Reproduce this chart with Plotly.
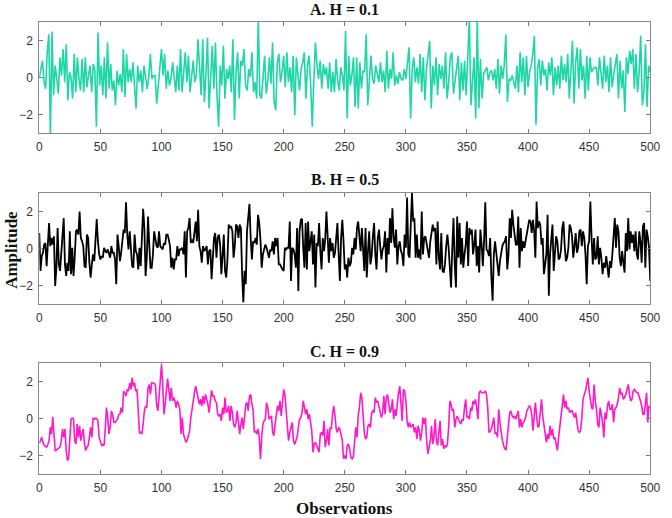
import numpy as np
import plotly.graph_objects as go

# ---------------- data ----------------
series_a = [
 0, 0.38, 0.91, -0.25, -0.61, 1.36, 2.34, -3.2, 2.48, -0.96, 0.64, -0.07, -0.88, 1.09, 0.11, 1.54,
 -0.25, 1.8, -1.23, 0.29, 0.02, -1.14, 1.27, -0.79, 1.09, -0.07, -0.7, 1.0, -0.79, 1.09, -0.52, 0.11,
 0.64, -0.79, 0.73, 0.38, -2.66, 2.43, -0.43, 0.64, -0.96, 1.09, -1.14, 1.89, -0.61, 0.73, -0.7, -0.16,
 -1.5, 0.38, -0.43, 0.2, -0.79, 1.54, -1.05, 1.27, -0.25, 0.46, -0.25, 0.82, -0.61, -1.68, 0.64, -0.25,
 0.38, -0.79, 0.64, -0.16, -0.61, 0.02, 1.27, -0.07, 0.11, 0.11, -1.41, -0.43, 0.73, 1.54, 0.11, 1.27,
 -0.61, 0.38, -0.43, -0.07, 0.82, -0.16, -0.79, 0.64, -0.7, 1.54, -0.79, 0.29, 1.36, -0.25, 1.18, -0.79,
 0.11, 0.91, -0.25, 0.11, 2.07, 0.11, -0.96, 2.07, -1.32, 0.11, 2.16, -1.68, 0.02, 1.71, -0.61, 1.89,
 -0.96, -2.66, 0.64, -0.43, 1.71, -1.14, 0.46, -0.07, 0.64, -0.79, 2.07, -2.3, 0.29, 1.36, -1.14, 0.91,
 0.64, 1.54, -0.43, -0.7, 0.46, 0.02, 1.36, -0.79, -0.25, -1.14, 3.2, -0.96, -1.14, 0.2, 1.18, -0.88,
 -0.16, 1.09, -0.34, 1.89, -1.32, -1.77, 0.82, 1.27, -0.25, 0.29, 1.18, -0.52, 1.36, -0.25, 0.55, -0.79,
 1.18, -2.04, 1.09, 0.11, -0.7, 0.46, 0.82, 1.36, -1.14, 0.64, 1.18, -0.34, -2.66, -0.16, 1.89, 0.64,
 -0.07, 0.91, -0.61, 0.73, 0.11, 0.55, -0.61, 0.82, -0.79, 0.29,
 -0.79, 1.0, -0.16, -0.7, 0.55, 0.11, -0.7, 2.52, -2.21, 1.18, -0.43, 0.11, 1.09, -1.59, 1.09, -1.68,
 0.82, -0.61, 0.38, 0.29, 2.34, -1.5, -0.25, 1.18, -0.07, -0.34, 0.64, 0.11, -0.25, 0.82, -0.25, 0.38,
 -0.79, 1.45, -0.61, 0.46, -0.07, 1.36, -0.43, 0.11, -0.34, 0.29, -0.07, -0.16, 0.46, -0.07, 1.0, 1.63,
 -2.21, 0.46, 1.09, -0.25, 0.55, -0.34, 1.27, -0.79, 1.09, -1.23, 0.46, 1.18, 1.98, -1.68, 0.64, -0.43,
 1.09, -0.96, 0.73, -0.07, 0.64, -0.61, 1.36, -1.14, -0.25, 1.09, 1.36, -0.88, -0.16, 0.38, 1.18, -1.23,
 0.82, -0.7, 0.91, -0.96, 1.54, 3.2, -1.5, -0.25, 1.09, -2.21, 3.2, -1.68, 1.0, -1.14, 0.2, 0.38,
 0.55, -0.16, 0.29, 0.38, -0.16, 0.46, -0.61, 1.0, -0.88, 0.64, -0.07, 0.64, 2.34, -1.32, -0.07, -0.16,
 0.11, -0.25, -0.61, 0.64, -0.79, 1.36, -0.25, 1.09, -0.96, 1.18, -0.52, 0.29, 0.64, 1.27, 2.25, -2.57,
 0.46, 1.0, -0.43, 0.91, 0.11, 0.46, -0.7, 0.82, 0.11, 1.09, -0.96, 0.55, -0.43, 0.64, -0.61, 1.18,
 -0.16, 0.73, -0.25, 1.27, -1.14, 0.38, 1.98, -1.41, 0.82, 1.63, -0.61, 1.54, -0.16, 0.64, -1.14, 1.18,
 -0.7, 1.09, 0.29, 0.46, 0.55, 0.55, -0.43, 1.09, 0.02, -0.61, 1.18, -0.25, 0.64, -0.79, 1.09, -0.52,
 0.2, 0.64, 1.27, -1.14, 0.91, -0.61, 0.38, -1.86, 1.09, 0.2, 1.45, 0.73, 1.54, -0.61, 1.27, -0.79,
 0.29, 2.25, -1.5, -0.79, 1.8, -1.59, 0.64, 0.29,
]

series_b = [
 0.84, -1.21, -0.41, -0.23, 0.21, 0.3, -0.95, 0.13, 1.38, 0.13, 0.57, 0.21, 0.66, -2.02, -1.04, 1.11,
 -0.86, -1.21, -0.32, 1.02, 1.64, -0.86, -1.48, -0.77, -1.21, 0.93, -1.39, 0.04, -1.48, -0.5, 0.93, 1.02,
 0.75, 2.0, 0.57, 0.39, 0.13, -0.95, -1.04, 0.75, 0.57, -0.77, -1.57, -0.86, -0.32, -0.68, 0.39, 1.59,
 0.39, -0.32, -0.59, -0.41, -0.5, 0.04, -0.14, -0.23, -0.05, -0.32, -0.5, 0.13, -0.23, -0.23, -0.59, -1.93,
 0.75, 0.13, -0.68, -0.23, 0.39, 1.02, 0.84, 2.5, 0.75, -0.05, 0.93, -0.23, -0.95, -1.04, 0.75, -0.14,
 -0.32, -1.13, 0.04, -0.95, 0.66, 2.14, 1.11, -1.48, -0.5, 1.73, 0.21, -1.04, -1.04, -0.32, 0.93, 0.57,
 0.13, 0.04, 0.93, 0.13, 0.04, -0.05, 0.3, 0.21, 0.75, 0.75, 0.48, 0.13, -1.04, -0.5, -1.13, -0.59,
 -0.59, 0.13, -0.41, -0.05, -0.05, 0.04, -0.32, 0.93, -1.57, 0.93, 1.11, 1.64, 0.3, 0.48, 0.3, 0.93,
 1.46, 0.39, 2.09, 0.13, -0.14, -0.77, 0.13, -0.14, -0.05, 0.13, -0.86, -0.14, -0.05, -1.66, -0.14, 0.57,
 0.84, -0.5, 0.57, 0.75, 0.21, -1.39, -0.41, 0.75, -1.21, -1.57, -0.59, 1.29, 1.11, 1.2, 0.93, -0.5,
 0.13, 1.29, 1.2, 0.57, 1.29, 1.11, -1.39, -2.91, -1.21, -1.93, 0.93, 1.55, 2.41, 0.57, -0.59, 0.39,
 0.3, 0.57, 0.21, 1.82, 1.38, 0.48, -1.04, -0.32, -0.05, 0.21, 0.04, -0.32, -0.5, -0.05, -0.14, 0.39,
 -0.32, 0.57, 0.13, 0.57, -0.86, -0.86, -1.04, -1.13, -1.21, 0.04, -0.05, 0.04, 0.04, 1.46, -1.75, 0.04,
 -0.05, -0.32, -1.04, 1.11, -2.29, 0.93, 1.55, 1.61, 0.04, -1.04, 1.38, -1.13, 1.46, -0.14, 0.39, 0.93,
 -0.86, 0.75, -2.11, 0.3, 0.13, 1.38, -0.14, -1.13, 0.57, -0.14, 0.48, 2.0, 0.66, -0.77, 0.57, -0.14,
 0.3, -0.5, -0.23, 0.93, 1.38, -0.32, -1.75, 0.57, 1.55, 0.39, -1.13, -0.86, -1.57, -0.5, -0.95, -0.77,
 0.04, -0.32, 0.57, -0.05, 1.11, 1.46, 0.84, -0.14, 1.11, -0.32, -1.21, 1.11, -1.57, -0.14, 0.93, -0.86,
 -0.41, 0.66, 1.38, -0.32, -1.13, 0.57, 1.02, 0.13, -0.59, -0.05, 0.13, 0.93, -1.3, 0.57, -0.32, 1.64,
 0.3, 2.18, 0.57, 0.04, 1.02, -0.86, 0.13, 0.39, -0.14, -0.32, -0.95, 0.75, 0.04, 2.75, -0.32, -0.5,
 1.02, 3.0, 1.46, 1.64, -0.5, 0.75, -0.5, -0.05, -0.59, 2.0, -0.32, 0.57, 0.66, 0.21, -0.32, -0.5,
 0.39, 0.75, 1.29, 0.93, 1.11, -0.86, 1.46, -0.5, -1.13, 0.84, -1.21, -1.3, -0.86, 0.13, 0.75, 0.04,
 -1.21, -2.11, 0.04, 1.64, -0.86, -2.11, 1.73, -0.5, 1.38, -0.86, 0.57, -1.04, -0.32, 0.21, 1.46, -0.95,
 1.11, 0.75, 1.02, -0.32, 0.21, 1.02, -0.95, 0.13, -1.3, 1.02, 0.21, -0.95, 0.39, 2.5, -0.05, -0.14,
 -0.41, 0.57, -1.57, -2.82, -0.32, 0.39, -0.23, -0.86, -1.48, -0.68, -0.23, 0.13, 0.3, 0.39, 0.66, -1.13,
 -0.32, 1.64, 0.57, 2.09, 1.29, 0.57, 0.21, 0.21, 1.73, -1.04, 1.11, -0.14, 0.39, 0.04, 0.39, 0.93,
 1.2, 1.55, 1.46, 0.84, 1.55, 0.93, -0.5, 2.54, 1.11, 1.46, 1.29, 0.21, 0.57, -1.39, -0.86, -0.32,
 1.82, -2.55, -0.32, 0.57, 1.29, -1.21, -0.32, 0.66, 0.39, -0.59, -0.5, -0.05, 1.11, 1.46, 0.13, -0.68,
 -0.5, 0.04, 1.29, 1.11, 0.66, -0.5, 0.13, 0.84, -0.23, 0.04, 0.93, 1.02, 0.13, 0.93, 0.57, -0.32,
 -1.93, 0.13, 0.39, 2.54, 0.57, -0.86, 0.57, -0.59, -0.5, 0.66, -0.86, 0.04, -0.5, -1.39, -0.77, -1.04,
 -0.41, -0.86, -1.57, -0.68, -1.04, -0.32, 0.93, 1.64, 0.04, 1.29, 0.93, -0.5, -0.95, -0.14, -0.77, -1.3,
 0.84, -0.14, 1.64, -0.05, 0.93, 0.3, 0.75, -0.14, 0.93, -0.32, -0.59, 0.93, 0.39, -0.77, 1.2, 1.38,
 -1.04, 1.02, 0.66, 0.04, -1.75,
]

series_c = [
 -1.34, -1.2, -1.02, -1.29, -1.46, -1.5, -1.55, -1.41, -1.2, -0.48, -0.84, 0.09, -1.02, -1.73, -1.7, -1.64,
 -1.59, -1.55, -1.2, -0.57, -1.02, -0.57, -1.73, -2.27, -2.18, -1.2, -0.04, 0.02, 0, -1.2, -1.38, -0.3,
 -1.02, -0.39, -1.2, -0.84, -0.57, -1.38, -1.73, -1.55, -1.46, -1.02, -0.48, -1.02, 0, -0.04, 0.02, 0,
 -0.13, -1.02, -1.29, -1.46, -1.41, -1.46, -0.57, 0.59, 0.05, -0.84, -0.48, 0.41, 0.23, -0.21, -0.21, -0.13,
 -0.04, 0.2, 0.23, 0.59, 0.32, 1.48, 1.39, 1.21, 1.57, 1.48, 1.93, 1.57, 2.2, 1.75, 1.93, 1.48,
 1.57, 0.41, -0.8, -0.75, -0.8, -0.3, 0.41, 0.68, 0.59, 1.66, 1.84, 1.3, 1.93, 1.93, 1.88, 1.84,
 0.77, 0.41, 1.13, 1.84, 2.91, 1.84, 0.23, 0.77, 1.48, 2.16, 1.57, 0.95, 1.66, 0.95, 1.13, 0.95,
 0.59, 0.95, 0.77, 0.5, -0.84, 0.05, -0.84, -1.11, -1.29, -1.2, -0.93, -0.66, 0.05, 0.59, 1.13, 1.39,
 1.75, 1.48, 1.13, 0.77, 1.04, 0.68, 1.21, 0.77, 1.3, 1.04, 0.77, 0.32, 0.95, 1.52, 1.21, 1.21,
 0.95, 0.86, 0.23, 0.14, 0.23, -0.13, 0.59, 0.23, 1.13, 0.32, 0.41, 0.68, -0.13, 0.68, 0.32, -0.3,
 -0.48, -0.21, 0.41, -0.3, -0.84, -0.3, 0.05, -0.57, 0.14, 0.77, 0.86, 0.41, 1.21, 1.3, 0.77, 0.5,
 -0.75, -0.66, -0.84, -0.57, -1.02, -2.18, -1.02, -0.3, -0.13, -0.04, 0.86, 0.59, -0.04, 0.05, 0.14, -0.75,
 -0.93, -0.3, 0.23, 0.68, 0.41, 0.95, 0.14, 0.77, 1.57, 1.3, 0.41, -0.66, -1.2, -0.75, -0.39, -0.21,
 -1.2, -1.41, -1.2, -1.02, -0.48, -0.04, 0.05, 0.32, 0.95, 0.59, 0.23, 0.5, -0.04, 0.23, -0.13, -0.66,
 -1.82, -1.38, -1.29, -1.46, -1.55, -1.82, -0.84, -0.75, -0.93, -0.13, -1.55, -1.2, -0.57, -1.46, -0.48, -0.57,
 0.23, 0.68, 0.14, -0.57, -0.75, -0.48, -0.57, -1.02, -1.2, -2.18, -2.0, -2.18, -1.46, -1.38, -1.64, -2.09,
 -2.18, -2.09, -1.2, -0.48, -1.02, 0.14, 0.59, 1.39, 1.13, 0.05, -0.75, -1.11, -1.02, -0.39, -0.3, -0.48,
 0.32, 0.41, 0.32, 1.13, 0.86, 0.95, 0.59, 0.23, 0.05, 0.32, 1.21, 0.23, 1.13, 1.3, 0.77, 0.32,
 0.5, 1.04, -0.04, 0.5, 0.14, 0.95, 1.39, 1.75, 0.95, -0.13, 1.57, 1.48, 0.95, -0.13, -0.48, -0.21,
 -0.48, -0.39, -0.3, -0.75, -0.48, -1.11, -0.39, -0.66, -1.2, -0.75, 0.05, -0.3, 0.05, -1.2, -1.91, -1.55,
 -1.2, -0.39, -1.38, -1.02, -0.04, -1.2, -1.46, -0.75, -0.13, -1.46, -1.11, -1.64, -1.46, -1.55, -1.38, -0.48,
 0.95, 0.77, 0.41, 0.5, -0.48, -0.04, 0.14, -0.04, -0.21, -0.3, -0.04, -0.13, 0.59, 1.04, 0.05, 0.14,
 -0.04, 0.59, 0.41, 0.95, 0.77, 1.04, 0.59, -0.04, 1.39, 1.48, 1.39, 1.39, 1.39, 1.48, 1.3, 0.59,
 -0.75, -0.7, -0.57, -0.3, 0.05, -0.84, -0.75, -1.02, 0.5, -0.21, -0.84, -1.2, -1.46, -1.64, -1.7, -1.02,
 0.05, 0.32, 0.41, 0.14, 0.05, 0.14, -0.04, 0.14, 0.41, -0.48, -0.04, -0.48, -0.21, -0.13, 0.05, 0.41,
 0.59, 0.68, 0.63, 0.23, -0.66, -0.04, 0.86, 0.14, -0.48, -0.39, 0.41, 1.04, 0.14, -0.39, -0.75, -1.29,
 -0.84, -1.11, -0.39, -0.93, -0.57, -1.11, -1.02, -1.38, -1.73, -1.02, -0.3, 0.14, 0.68, 1.3, 0.59, 0.95,
 0.5, 0.59, 0.32, 0.41, 0.41, 0.23, 0.05, 0.32, -0.21, -0.66, -0.75, -0.66, 0.05, 1.04, 1.3, 1.48,
 1.84, 2.2, 1.48, 0.95, 0.59, 0.5, 1.84, 0.95, 0.5, -0.3, -0.48, 0.59, 0.14, -0.21, -1.02, 0.32,
 -0.04, 0.68, 0.95, 0.5, 0.5, 0.77, -0.21, 0.5, 0.59, 0.77, 1.13, 1.66, 1.3, 1.39, 1.04, 1.13,
 1.3, 1.57, 1.84, 1.3, 0.95, 1.04, 1.48, 1.57, 1.48, 1.39, 1.39, 1.21, 0.95, 0.68, 0.23, 0.23,
 0.77, 1.39, -0.21, 0.68, 0.59,
]

panel_titles = ["A. H = 0.1", "B. H = 0.5", "C. H = 0.9"]
panel_colors = ["#1fd6a6", "#000000", "#ff19c8"]
x_ticks = list(range(0, 501, 50))
y_ticks = [-2, 0, 2]

# ---------------- figure ----------------
W, H = 672, 518
x_dom = [37 / W, 660 / W]
panel_px = [(22, 133), (193, 304), (363, 474)]  # top, bottom in px
y_doms = [[1 - b / H, 1 - t / H] for t, b in panel_px]

fig = go.Figure()
all_series = [series_a, series_b, series_c]
widths = [1.6, 1.8, 1.6]
for i, (vals, col) in enumerate(zip(all_series, panel_colors)):
    xs = np.linspace(0, 500, len(vals))
    fig.add_trace(go.Scatter(
        x=xs, y=vals, mode="lines",
        line=dict(color=col, width=widths[i]),
        xaxis="x" if i == 0 else f"x{i+1}",
        yaxis="y" if i == 0 else f"y{i+1}",
        showlegend=False, hoverinfo="skip",
    ))

axis_common = dict(
    showline=True, linecolor="#8a8a8a", linewidth=1, mirror="allticks",
    ticks="inside", ticklen=4, tickcolor="#7a7a7a", tickwidth=1,
    showgrid=False, zeroline=False,
    tickfont=dict(family="Liberation Sans, Arial, sans-serif", size=12, color="#333333"),
)

layout = dict(
    width=W, height=H, margin=dict(l=0, r=0, t=0, b=0),
    paper_bgcolor="white", plot_bgcolor="white",
)
for i in range(3):
    xa = "xaxis" if i == 0 else f"xaxis{i+1}"
    ya = "yaxis" if i == 0 else f"yaxis{i+1}"
    ya_ref = "y" if i == 0 else f"y{i+1}"
    xa_ref = "x" if i == 0 else f"x{i+1}"
    layout[xa] = dict(axis_common, domain=x_dom, range=[0, 500], anchor=ya_ref,
                      tickmode="array", tickvals=x_ticks, ticklabelstandoff=3)
    layout[ya] = dict(axis_common, domain=y_doms[i], range=[-3, 3], anchor=xa_ref,
                      tickmode="array", tickvals=y_ticks, ticklabelstandoff=3)
fig.update_layout(**layout)

title_y_px = [10, 180, 351]
annotations = []
for t, ypx in zip(panel_titles, title_y_px):
    annotations.append(dict(
        text=f"<b>{t}</b>", xref="paper", yref="paper",
        x=(x_dom[0] + x_dom[1]) / 2, y=1 - ypx / H, xanchor="center", yanchor="middle",
        showarrow=False,
        font=dict(family="Liberation Serif, Times New Roman, serif", size=16, color="#111111"),
    ))
annotations.append(dict(
    text="<b>Amplitude</b>", xref="paper", yref="paper", x=9 / W, y=1 - 250 / H,
    xanchor="center", yanchor="middle", textangle=-90, showarrow=False,
    font=dict(family="Liberation Serif, Times New Roman, serif", size=17, color="#111111"),
))
annotations.append(dict(
    text="<b>Observations</b>", xref="paper", yref="paper", x=(x_dom[0] + x_dom[1]) / 2,
    y=1 - 508 / H, xanchor="center", yanchor="middle", showarrow=False,
    font=dict(family="Liberation Serif, Times New Roman, serif", size=17, color="#111111"),
))
fig.update_layout(annotations=annotations)

fig.write_html("out.html")
